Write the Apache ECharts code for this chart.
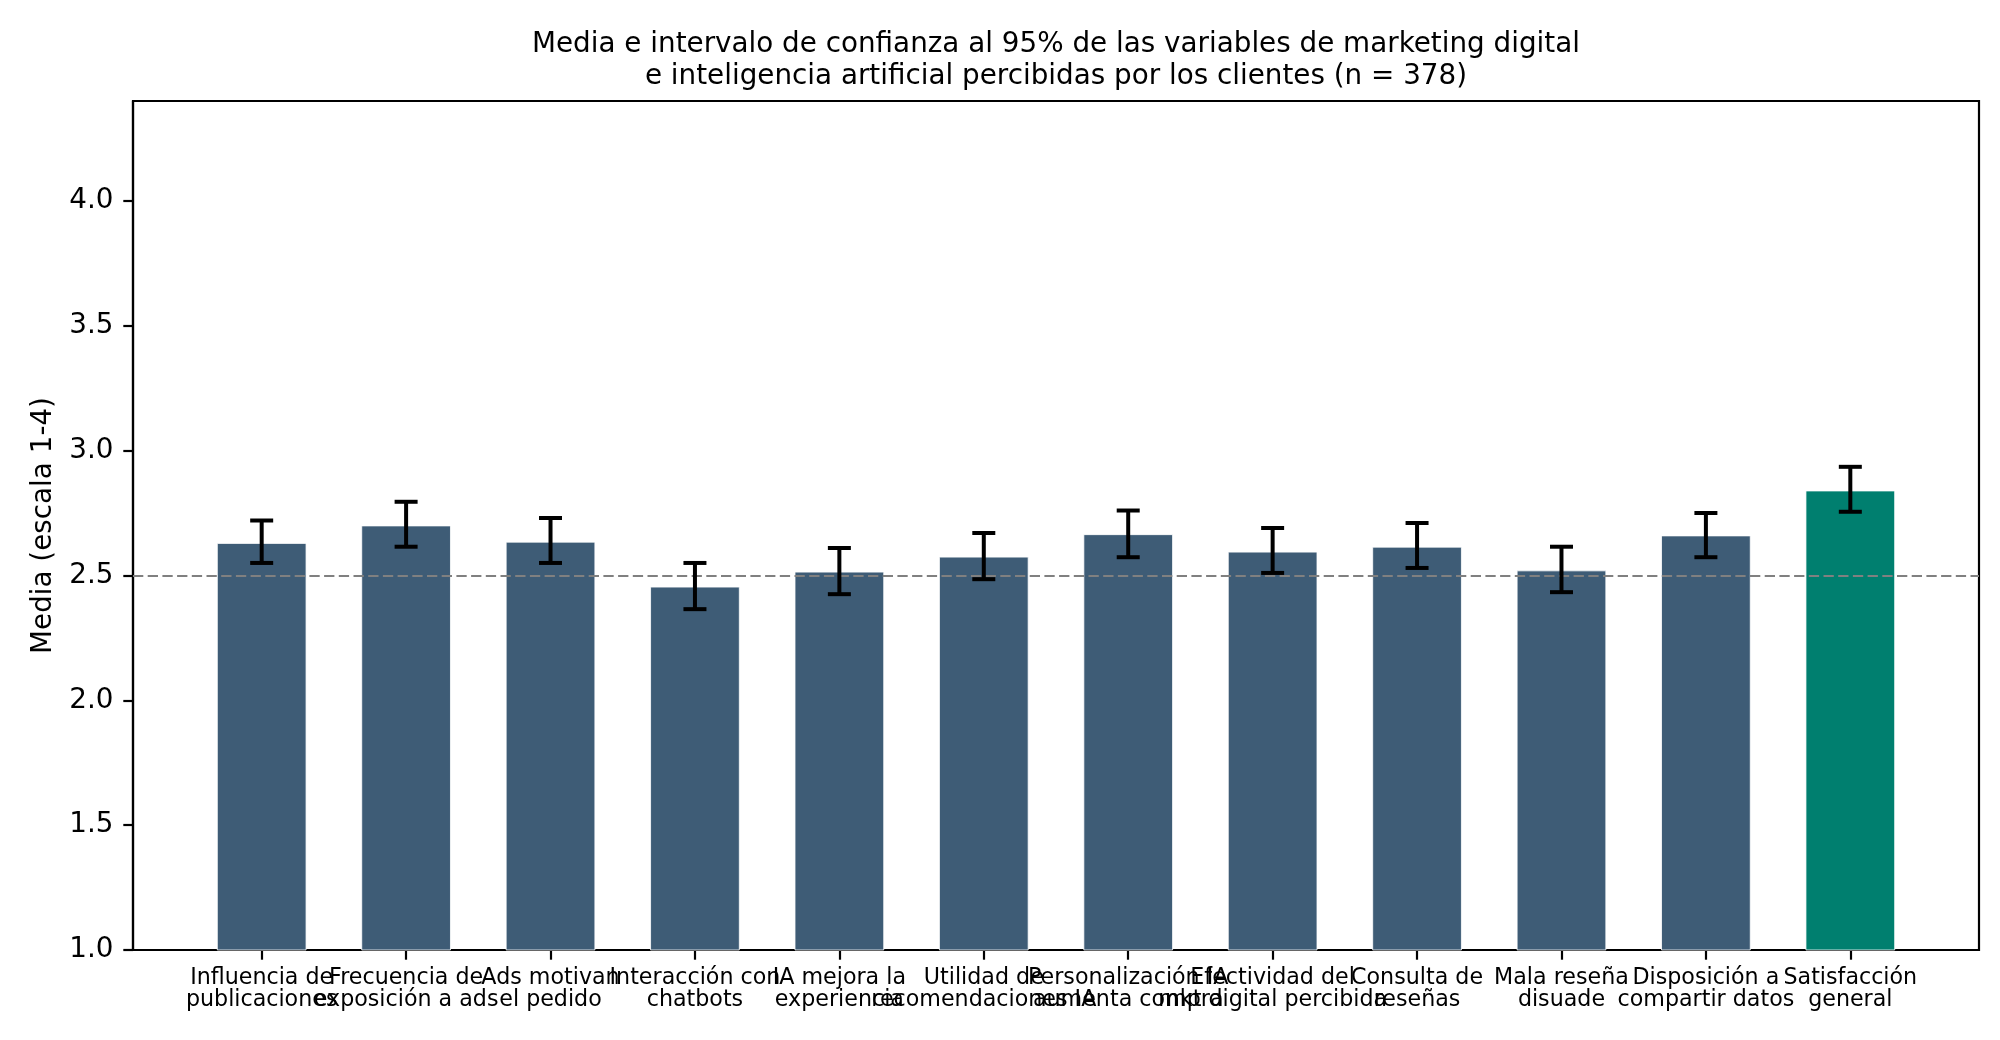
<!DOCTYPE html>
<html>
<head>
<meta charset="utf-8">
<script src="https://cdn.jsdelivr.net/npm/echarts@6/dist/echarts.min.js"></script>
<style>
  html, body { margin: 0; padding: 0; background: #fff; }
  #chart { width: 2000px; height: 1040px; }
</style>
</head>
<body>
<div id="chart"></div>
<script>
const categories = [
  "Influencia de\npublicaciones",
  "Frecuencia de\nexposición a ads",
  "Ads motivan\nel pedido",
  "Interacción con\nchatbots",
  "IA mejora la\nexperiencia",
  "Utilidad de\nrecomendaciones IA",
  "Personalización IA\naumenta compra",
  "Efectividad del\nmkt digital percibida",
  "Consulta de\nreseñas",
  "Mala reseña\ndisuade",
  "Disposición a\ncompartir datos",
  "Satisfacción\ngeneral"
];
const means  = [2.63, 2.70, 2.635, 2.455, 2.515, 2.575, 2.665, 2.595, 2.615, 2.52, 2.66, 2.84];
const ciLow  = [2.55, 2.615, 2.55, 2.365, 2.425, 2.485, 2.573, 2.51, 2.53, 2.433, 2.573, 2.755];
const ciHigh = [2.72, 2.795, 2.73, 2.55, 2.61, 2.67, 2.76, 2.69, 2.71, 2.615, 2.75, 2.935];
const yTicks = [1.0, 1.5, 2.0, 2.5, 3.0, 3.5, 4.0];
const referenceLevel = 2.5;
const highlightIndex = categories.length - 1;

const titleText = "Media e intervalo de confianza al 95% de las variables de marketing digital\ne inteligencia artificial percibidas por los clientes (n = 378)";
const yAxisName = "Media (escala 1-4)";

const FONT = "DejaVu Sans";
const xPositions = categories.map((_, i) => i);
const evenPositions = xPositions.filter(i => i % 2 === 0);
const oddPositions = xPositions.filter(i => i % 2 === 1);

const X_MIN = -0.891, X_MAX = 11.891;

function xLabelStyle(values) {
  return {
    customValues: values,
    showMinLabel: true,
    showMaxLabel: true,
    hideOverlap: false,
    margin: 16.5,
    fontFamily: FONT, fontSize: 22.2, color: '#000', lineHeight: 22.5,
    align: 'center',
    formatter: v => categories[Math.round(v)] || ''
  };
}

const chart = echarts.init(document.getElementById('chart'), null, { renderer: 'canvas' });

chart.setOption({
  animation: false,
  backgroundColor: '#ffffff',
  textStyle: { fontFamily: FONT, color: '#000' },
  title: {
    text: titleText,
    left: 1051,
    top: 24,
    textAlign: 'center',
    textStyle: { fontFamily: FONT, fontSize: 27.8, fontWeight: 'normal', color: '#000', lineHeight: 32 }
  },
  grid: {
    left: 133, right: 21, top: 101, bottom: 90,
    show: true, borderColor: '#000', borderWidth: 2.2, backgroundColor: 'transparent'
  },
  xAxis: [
    {
      type: 'value',
      position: 'bottom',
      min: X_MIN,
      max: X_MAX,
      splitLine: { show: false },
      axisLine: { show: true, onZero: false, lineStyle: { color: '#000', width: 2.2 } },
      axisTick: { show: true, inside: false, length: 9.7, lineStyle: { color: '#000', width: 2.2 }, customValues: xPositions },
      axisLabel: xLabelStyle(evenPositions)
    },
    {
      type: 'value',
      position: 'bottom',
      offset: 0,
      min: X_MIN,
      max: X_MAX,
      splitLine: { show: false },
      axisLine: { show: false, onZero: false },
      axisTick: { show: false },
      axisLabel: xLabelStyle(oddPositions)
    }
  ],
  yAxis: {
    type: 'value',
    min: 1,
    max: 4.4,
    name: yAxisName,
    nameLocation: 'middle',
    nameRotate: 90,
    nameGap: 75.5,
    nameTextStyle: { fontFamily: FONT, fontSize: 27.8, color: '#000' },
    splitLine: { show: false },
    axisLine: { show: true, onZero: false, lineStyle: { color: '#000', width: 2.2 } },
    axisTick: { show: true, inside: false, length: 9.7, lineStyle: { color: '#000', width: 2.2 }, customValues: yTicks },
    axisLabel: {
      customValues: yTicks,
      margin: 19.5,
      fontFamily: FONT, fontSize: 27.8, color: '#000',
      formatter: v => v.toFixed(1)
    }
  },
  series: [
    {
      type: 'bar',
      xAxisIndex: 0,
      data: means.map((m, i) => [i, m]),
      barWidth: '62%',
      itemStyle: {
        color: p => p.dataIndex === highlightIndex ? '#007f6f' : '#3e5c76',
        borderColor: '#ffffff',
        borderWidth: 0.8
      },
      markLine: {
        silent: true,
        symbol: 'none',
        label: { show: false },
        lineStyle: { color: '#808080', width: 2.2, type: [10.3, 4.4] },
        data: [{ yAxis: referenceLevel }],
        z: 5
      },
      z: 2
    },
    {
      type: 'custom',
      xAxisIndex: 0,
      data: categories.map((_, i) => [i, ciLow[i], ciHigh[i]]),
      encode: { x: 0, y: [1, 2] },
      z: 10,
      renderItem: (params, api) => {
        const x = api.value(0);
        const pLo = api.coord([x, api.value(1)]);
        const pHi = api.coord([x, api.value(2)]);
        const cap = 11.5;
        const st = { stroke: '#000', lineWidth: 4 };
        return {
          type: 'group',
          children: [
            { type: 'line', shape: { x1: pLo[0], y1: pLo[1], x2: pHi[0], y2: pHi[1] }, style: st },
            { type: 'line', shape: { x1: pLo[0] - cap, y1: pLo[1], x2: pLo[0] + cap, y2: pLo[1] }, style: st },
            { type: 'line', shape: { x1: pHi[0] - cap, y1: pHi[1], x2: pHi[0] + cap, y2: pHi[1] }, style: st }
          ]
        };
      }
    }
  ]
});
</script>
</body>
</html>
